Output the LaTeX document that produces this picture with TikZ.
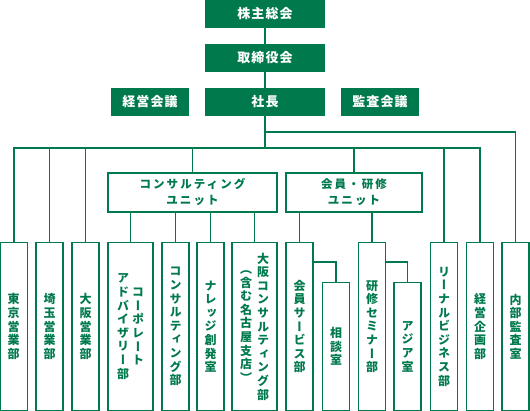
\documentclass[tikz,border=0pt]{standalone}
\usepackage{fontspec}
\newfontfamily\jp{Noto Sans CJK JP}
\newfontfamily\jpv[RawFeature=+vert]{Noto Sans CJK JP}
\newfontfamily\jpu[LetterSpace=18]{Noto Sans CJK JP}
\newfontfamily\jph[LetterSpace=8]{Noto Sans CJK JP}
\definecolor{corp}{RGB}{0,122,77}
\newcommand{\vcol}[1]{\parbox[c]{13pt}{\centering\jpv\bfseries\fontsize{12}{13.6}\selectfont #1}}
\begin{document}
\begin{tikzpicture}[x=1pt,y=-1pt,
  topbox/.style={fill=corp, text=white, font=\jph\bfseries\fontsize{13}{16}\selectfont, minimum height=28, inner sep=0},
  unitbox/.style={draw=corp, line width=1.1pt, fill=white, text=corp, align=center, font=\jpu\bfseries\fontsize{11.5}{16}\selectfont, minimum height=39, inner sep=0},
  deptbox/.style={draw=corp, line width=1.1pt, text=corp, minimum height=168, minimum width=27, inner sep=0, anchor=north},
  conn/.style={draw=corp, line width=1.8pt}]
\path[use as bounding box] (0,0) rectangle (530,411);
% top boxes
\node[topbox, minimum width=120] (kabu) at (265,14) {株主総会};
\node[topbox, minimum width=120] (tori) at (265,58) {取締役会};
\node[topbox, minimum width=120] (shacho) at (265,102) {社長};
\node[topbox, minimum width=78] (keiei) at (150,102) {経営会議};
\node[topbox, minimum width=78] (kansa) at (380,102) {監査会議};
% units
\node[unitbox, minimum width=169] (cunit) at (192.5,192.5) {コンサルティング\\ユニット};
\node[unitbox, minimum width=136] (munit) at (354,192.5) {会員・研修\\ユニット};
% departments
\node[deptbox] (tokyo) at (13.75,242) {\vcol{東\\京\\営\\業\\部}};
\node[deptbox] (saitama) at (49.5,242) {\vcol{埼\\玉\\営\\業\\部}};
\node[deptbox] (osaka) at (85.5,242) {\vcol{大\\阪\\営\\業\\部}};
\node[deptbox, minimum width=45] (corpadv) at (130.5,242) {\vcol{ア\\ド\\バ\\イ\\ザ\\リ\\ー\\部}\hspace{2pt}\vcol{コ\\ー\\ポ\\レ\\ー\\ト}};
\node[deptbox] (consul) at (175.5,242) {\vcol{コ\\ン\\サ\\ル\\テ\\ィ\\ン\\グ\\部}};
\node[deptbox] (knowledge) at (210.5,242) {\vcol{ナ\\レ\\ッ\\ジ\\創\\発\\室}};
\node[deptbox, minimum width=45] (osakacon) at (254.5,242) {\vcol{（\\含\\む\\名\\古\\屋\\支\\店\\）}\hspace{4pt}\vcol{大\\阪\\コ\\ン\\サ\\ル\\テ\\ィ\\ン\\グ\\部}};
\node[deptbox] (kaiin) at (299.5,242) {\vcol{会\\員\\サ\\ー\\ビ\\ス\\部}};
\node[deptbox, minimum height=128] (soudan) at (336,282) {\vcol{相\\談\\室}};
\node[deptbox] (kenshu) at (372,242) {\vcol{研\\修\\セ\\ミ\\ナ\\ー\\部}};
\node[deptbox, minimum height=128] (asia) at (407.5,282) {\vcol{ア\\ジ\\ア\\室}};
\node[deptbox] (renal) at (444,242) {\vcol{リ\\ー\\ナ\\ル\\ビ\\ジ\\ネ\\ス\\部}};
\node[deptbox] (keikaku) at (480,242) {\vcol{経\\営\\企\\画\\部}};
\node[deptbox] (naibu) at (515.5,242) {\vcol{内\\部\\監\\査\\室}};
% junctions
\coordinate (j1) at (265,132);
\coordinate (j2) at (265,148);
% connectors
\draw[conn] (kabu.south) -- (tori.north);
\draw[conn] (tori.south) -- (shacho.north);
\draw[conn] (shacho.south) -- (j1) -| (naibu.north);
\draw[conn] (j1) -- (j2);
\draw[conn] (tokyo.north) |- (keikaku.north |- j2) -- (keikaku.north);
\draw[conn] (saitama.north) -- (saitama.north |- j2);
\draw[conn] (osaka.north) -- (osaka.north |- j2);
\draw[conn] (renal.north) -- (renal.north |- j2);
\draw[conn] (cunit.north) -- (cunit.north |- j2);
\draw[conn] (munit.north) -- (munit.north |- j2);
\draw[conn] (corpadv.north) -- (corpadv.north |- cunit.south);
\draw[conn] (consul.north) -- (consul.north |- cunit.south);
\draw[conn] (knowledge.north) -- (knowledge.north |- cunit.south);
\draw[conn] (osakacon.north) -- (osakacon.north |- cunit.south);
\draw[conn] (kaiin.north) -- (kaiin.north |- munit.south);
\draw[conn] (kenshu.north) -- (kenshu.north |- munit.south);
\draw[conn] ([yshift=-20pt]kaiin.north east) -| (soudan.north);
\draw[conn] ([yshift=-20pt]kenshu.north east) -| (asia.north);
\end{tikzpicture}
\end{document}
